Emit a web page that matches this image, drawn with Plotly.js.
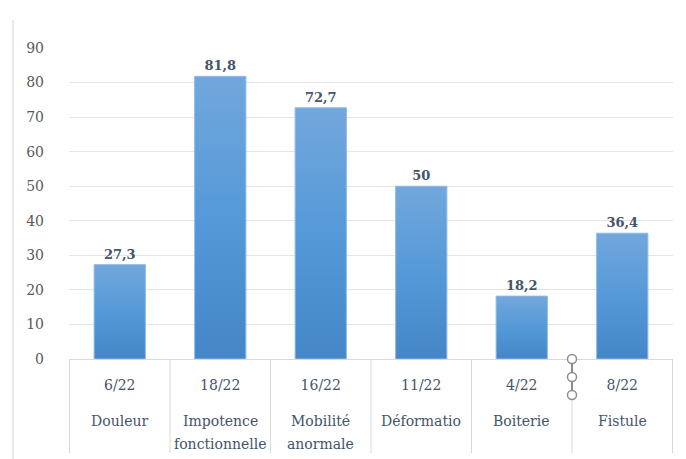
<!DOCTYPE html>
<html>
<head>
<meta charset="utf-8">
<script src="https://cdn.plot.ly/plotly-3.0.1.min.js"></script>
<style>
  html, body { margin: 0; padding: 0; background: #ffffff; }
  #chart { width: 686px; height: 459px; }
</style>
</head>
<body>
<div id="chart"></div>
<script>
// ---- data ----
var categories = ["Douleur", "Impotence fonctionnelle", "Mobilité anormale", "Déformatio", "Boiterie", "Fistule"];
var labelLine1 = ["Douleur", "Impotence", "Mobilité", "Déformatio", "Boiterie", "Fistule"];
var labelLine2 = ["", "fonctionnelle", "anormale", "", "", ""];
var fractions = ["6/22", "18/22", "16/22", "11/22", "4/22", "8/22"];
var percents = [27.3, 81.8, 72.7, 50, 18.2, 36.4];
var yTicks = [0, 10, 20, 30, 40, 50, 60, 70, 80, 90];

var serif = "DejaVu Serif";
var textColor = "#44546a";
var gridColor = "#e4e4e4";
var divColor = "#d9d9d9";

var trace = {
  type: "bar",
  x: categories,
  y: percents,
  marker: { color: "#5b9bd5", line: { color: "#8dbbe8", width: 1 } },
  text: percents.map(function (v) { return String(v).replace(".", ","); }),
  textposition: "outside",
  cliponaxis: false,
  textfont: { family: serif, size: 13, color: textColor, weight: "bold" },
  hoverinfo: "none"
};

var annotations = [];
categories.forEach(function (c, i) {
  annotations.push({
    xref: "x", yref: "paper", x: c, y: 0, yanchor: "middle", xanchor: "center",
    yshift: -62, showarrow: false, text: labelLine1[i],
    font: { family: serif, size: 14, color: textColor }
  });
  if (labelLine2[i]) {
    annotations.push({
      xref: "x", yref: "paper", x: c, y: 0, yanchor: "middle", xanchor: "center",
      yshift: -85, showarrow: false, text: labelLine2[i],
      font: { family: serif, size: 14, color: textColor }
    });
  }
});

var plotH = 459 - 48 - 100;
var plotW = 686 - 69 - 13;
var shapes = [];
// category dividers
for (var i = 0; i <= categories.length; i++) {
  shapes.push({
    type: "line", xref: "x", yref: "paper",
    x0: i - 0.5, x1: i - 0.5, y0: 0, y1: -94 / plotH,
    line: { color: divColor, width: 1 }
  });
}
// chart frame left edge
shapes.push({
  type: "line", xref: "paper", yref: "paper",
  x0: -56 / plotW, x1: -56 / plotW, y0: 339 / plotH, y1: -100 / plotH,
  line: { color: "#e3e3e3", width: 1.5 }
});
// selection handle artifact between Boiterie and Fistule
shapes.push({
  type: "line", xref: "x", yref: "paper",
  x0: 4.5, x1: 4.5, y0: 1 / plotH, y1: -36 / plotH,
  line: { color: "#8c8c8c", width: 2 }
});
[0, -18, -36].forEach(function (dy) {
  shapes.push({
    type: "circle", xref: "x", yref: "paper", xsizemode: "pixel", ysizemode: "pixel",
    xanchor: 4.5, yanchor: dy / plotH,
    x0: -4.5, x1: 4.5, y0: -4.5, y1: 4.5,
    fillcolor: "#ffffff", line: { color: "#8c8c8c", width: 1.5 }
  });
});

var layout = {
  width: 686, height: 459,
  margin: { l: 69, r: 13, t: 48, b: 100, pad: 0 },
  paper_bgcolor: "#ffffff", plot_bgcolor: "#ffffff",
  showlegend: false,
  bargap: 0.49,
  font: { family: serif },
  xaxis: {
    type: "category",
    tickvals: categories, ticktext: fractions,
    ticks: "", showgrid: false, zeroline: false,
    showline: true, linecolor: divColor, linewidth: 1,
    tickfont: { family: serif, size: 14, color: textColor },
    ticklabelstandoff: 13,
    fixedrange: true
  },
  yaxis: {
    range: [0, 90], tickvals: yTicks, ticktext: yTicks.map(String),
    showgrid: true, gridcolor: gridColor, gridwidth: 1,
    zeroline: false, showline: false, ticks: "",
    tickfont: { family: serif, size: 14, color: "#595959" },
    ticklabelstandoff: 24,
    fixedrange: true
  },
  annotations: annotations,
  shapes: shapes
};

Plotly.newPlot("chart", [trace], layout, { staticPlot: true, displayModeBar: false }).then(function (gd) {
  var svg = gd.querySelector(".main-svg");
  var ns = "http://www.w3.org/2000/svg";
  var defs = svg.querySelector("defs") || svg.insertBefore(document.createElementNS(ns, "defs"), svg.firstChild);
  var grad = document.createElementNS(ns, "linearGradient");
  grad.setAttribute("id", "barGrad");
  grad.setAttribute("x1", "0"); grad.setAttribute("y1", "0");
  grad.setAttribute("x2", "0"); grad.setAttribute("y2", "1");
  [["0%", "#72a7dc"], ["50%", "#5599d8"], ["100%", "#4486c6"]].forEach(function (s) {
    var st = document.createElementNS(ns, "stop");
    st.setAttribute("offset", s[0]); st.setAttribute("stop-color", s[1]);
    grad.appendChild(st);
  });
  defs.appendChild(grad);
  gd.querySelectorAll(".bars .point path").forEach(function (p) {
    p.style.fill = "url(#barGrad)";
  });
});
</script>
</body>
</html>
